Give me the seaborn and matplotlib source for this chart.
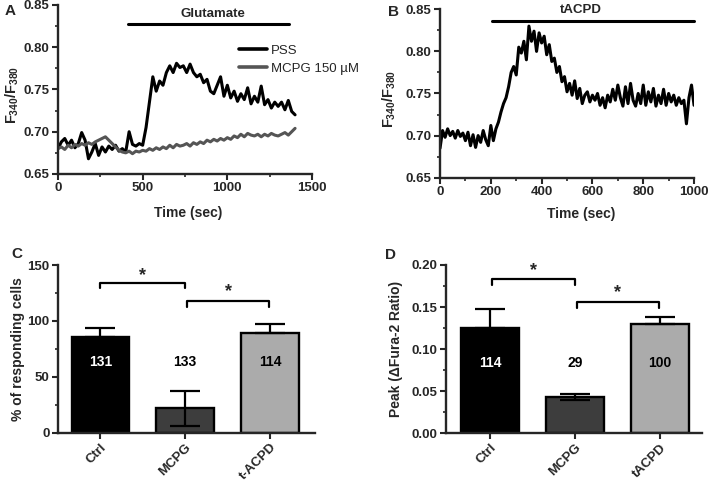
import numpy as np
import pandas as pd
import matplotlib
matplotlib.use('Agg')
import matplotlib.pyplot as plt
from matplotlib.ticker import MultipleLocator
import seaborn as sns

# panel A: F340/F380 traces sampled every 20 s
a_time = np.arange(0, 1401, 20)
a_pss = [0.680, 0.688, 0.692, 0.684, 0.690, 0.681, 0.686, 0.699, 0.690, 0.668,
         0.676, 0.686, 0.672, 0.682, 0.676, 0.683, 0.679, 0.684, 0.677, 0.680,
         0.676, 0.700, 0.685, 0.683, 0.686, 0.684, 0.705, 0.735, 0.765, 0.748,
         0.760, 0.755, 0.770, 0.778, 0.770, 0.781, 0.776, 0.778, 0.770, 0.780,
         0.770, 0.765, 0.768, 0.758, 0.762, 0.748, 0.745, 0.755, 0.765, 0.742,
         0.755, 0.740, 0.748, 0.736, 0.745, 0.738, 0.752, 0.733, 0.742, 0.735,
         0.754, 0.732, 0.738, 0.728, 0.735, 0.730, 0.735, 0.726, 0.737, 0.724,
         0.720]
a_mcpg = [0.680, 0.682, 0.679, 0.684, 0.681, 0.685, 0.683, 0.686, 0.684, 0.687,
          0.685, 0.688, 0.690, 0.692, 0.694, 0.690, 0.686, 0.682, 0.678, 0.676,
          0.675, 0.677, 0.674, 0.677, 0.676, 0.678, 0.677, 0.680, 0.678, 0.681,
          0.679, 0.682, 0.680, 0.684, 0.681, 0.685, 0.683, 0.684, 0.686, 0.683,
          0.687, 0.685, 0.688, 0.686, 0.690, 0.688, 0.691, 0.689, 0.692, 0.690,
          0.693, 0.691, 0.695, 0.693, 0.697, 0.694, 0.698, 0.696, 0.695, 0.697,
          0.694, 0.697, 0.695, 0.698, 0.696, 0.695, 0.697, 0.699, 0.696, 0.700,
          0.704]

# panel B: tACPD trace sampled every 10 s
b_time = np.arange(0, 1001, 10)
b_tacpd = [0.685, 0.706, 0.698, 0.708, 0.700, 0.705, 0.697, 0.706, 0.699, 0.703,
           0.694, 0.704, 0.688, 0.701, 0.686, 0.700, 0.692, 0.706, 0.695, 0.688,
           0.712, 0.694, 0.708, 0.716, 0.728, 0.738, 0.745, 0.758, 0.775, 0.782,
           0.772, 0.805, 0.798, 0.812, 0.790, 0.830, 0.812, 0.824, 0.800, 0.822,
           0.810, 0.818, 0.796, 0.808, 0.788, 0.792, 0.775, 0.782, 0.764, 0.770,
           0.752, 0.762, 0.748, 0.765, 0.744, 0.756, 0.738, 0.748, 0.752, 0.740,
           0.748, 0.742, 0.750, 0.736, 0.745, 0.733, 0.748, 0.740, 0.755, 0.742,
           0.760, 0.745, 0.735, 0.758, 0.738, 0.762, 0.742, 0.735, 0.750, 0.738,
           0.760, 0.736, 0.752, 0.740, 0.756, 0.735, 0.748, 0.738, 0.755, 0.736,
           0.750, 0.740, 0.748, 0.736, 0.745, 0.738, 0.742, 0.714, 0.745, 0.760,
           0.736]

# panel C: % responding cells
c_cats = ['Ctrl', 'MCPG', 't-ACPD']
c_vals = [85.9, 21.8, 89.4]
c_err = [7.5, 15.8, 8.0]
c_n = ['131', '133', '114']

# panel D: peak delta ratio
d_cats = ['Ctrl', 'MCPG', 'tACPD']
d_vals = [0.1248, 0.0430, 0.1300]
d_err = [0.0226, 0.0040, 0.0087]
d_n = ['114', '29', '100']

bar_colors = ['#000000', '#3d3d3d', '#ababab']
n_colors = ['white', 'black', 'black']

sns.set_style('ticks')
plt.rcParams['font.family'] = ['Liberation Sans', 'DejaVu Sans']
plt.rcParams['mathtext.fontset'] = 'custom'
plt.rcParams['mathtext.rm'] = 'Liberation Sans:bold'
plt.rcParams['mathtext.it'] = 'Liberation Sans:bold'
plt.rcParams['mathtext.bf'] = 'Liberation Sans:bold'
plt.rcParams['axes.linewidth'] = 1.7

fig = plt.figure(figsize=(7.08, 4.83), dpi=100)
axA = fig.add_axes([0.0819, 0.6398, 0.3588, 0.3499])
axB = fig.add_axes([0.6215, 0.6321, 0.3588, 0.3487])
axC = fig.add_axes([0.0819, 0.1041, 0.3630, 0.3472])
axD = fig.add_axes([0.6295, 0.1029, 0.3616, 0.3485])


def style_axis(ax):
    sns.despine(ax=ax)
    ax.tick_params(which='major', direction='out', length=4, width=1.5,
                   labelsize=9.5, pad=2)
    ax.tick_params(which='minor', direction='out', length=2.5, width=1.2)
    for lab in ax.get_xticklabels() + ax.get_yticklabels():
        lab.set_fontweight('bold')


# ---- A ----
dfA = pd.DataFrame({
    'time': np.concatenate([a_time, a_time]),
    'ratio': a_pss + a_mcpg,
    'cond': ['PSS'] * len(a_pss) + ['MCPG 150 µM'] * len(a_mcpg),
})
sns.lineplot(data=dfA, x='time', y='ratio', hue='cond', estimator=None,
             palette={'PSS': '#000000', 'MCPG 150 µM': '#555555'},
             linewidth=2.2, ax=axA)
axA.set_xlim(0, 1500)
axA.set_ylim(0.65, 0.85)
axA.xaxis.set_major_locator(MultipleLocator(500))
axA.xaxis.set_minor_locator(MultipleLocator(250))
axA.yaxis.set_major_locator(MultipleLocator(0.05))
axA.yaxis.set_minor_locator(MultipleLocator(0.025))
axA.yaxis.set_major_formatter(lambda v, p: f'{v:.2f}')
axA.set_xlabel('Time (sec)', fontsize=10, fontweight='bold')
axA.set_ylabel(r'$F_{340}/F_{380}$', fontsize=10.5)
axA.xaxis.set_label_coords(0.513, -0.19)
axA.yaxis.set_label_coords(-0.145, 0.47)
axA.plot([416, 1363], [0.828, 0.828], color='black', lw=2.2, clip_on=False)
axA.text(913, 0.839, 'Glutamate', ha='center', va='center', fontsize=9.5,
         fontweight='bold')
leg = axA.legend(loc='upper left', bbox_to_anchor=(0.713, 0.765), frameon=False,
                 fontsize=9.5, handlelength=2.1, handletextpad=0.3,
                 labelspacing=0.45, borderpad=0, borderaxespad=0)
for line in leg.get_lines():
    line.set_linewidth(2.6)
style_axis(axA)

# ---- B ----
sns.lineplot(x=b_time, y=b_tacpd, color='black', linewidth=2.2,
             estimator=None, ax=axB)
axB.set_xlim(0, 1000)
axB.set_ylim(0.65, 0.85)
axB.xaxis.set_major_locator(MultipleLocator(200))
axB.xaxis.set_minor_locator(MultipleLocator(100))
axB.yaxis.set_major_locator(MultipleLocator(0.05))
axB.yaxis.set_minor_locator(MultipleLocator(0.025))
axB.yaxis.set_major_formatter(lambda v, p: f'{v:.2f}')
axB.set_xlabel('Time (sec)', fontsize=10, fontweight='bold')
axB.set_ylabel(r'$F_{340}/F_{380}$', fontsize=10.5)
axB.xaxis.set_label_coords(0.555, -0.175)
axB.yaxis.set_label_coords(-0.165, 0.47)
axB.plot([203, 1000], [0.8365, 0.8365], color='black', lw=2.2, clip_on=False)
axB.text(554, 0.849, 'tACPD', ha='center', va='center', fontsize=9.5,
         fontweight='bold', clip_on=False)
style_axis(axB)


# ---- C & D ----
def bar_panel(ax, cats, vals, errs, ns, n_y, lower_err):
    sns.barplot(x=cats, y=vals, hue=cats, palette=bar_colors, legend=False,
                width=0.68, edgecolor='black', linewidth=1.7, errorbar=None,
                ax=ax)
    for i, (v, e) in enumerate(zip(vals, errs)):
        lo = e if lower_err[i] else 0
        ax.errorbar(i, v, yerr=[[lo], [e]], fmt='none', ecolor='black',
                    elinewidth=1.6, capsize=11, capthick=1.6, zorder=3)
        ax.text(i, n_y, ns[i], ha='center', va='center', fontsize=10,
                fontweight='bold', color=n_colors[i])
    ax.tick_params(axis='x', rotation=45)
    for lab in ax.get_xticklabels():
        lab.set_ha('right')
        lab.set_rotation_mode('anchor')


def bracket(ax, x0, x1, y, leg, star_y):
    ax.plot([x0, x0, x1, x1], [y - leg, y, y, y - leg], color='black',
            lw=1.6, clip_on=False)
    ax.text((x0 + x1) / 2, star_y, '*', ha='center', va='center',
            fontsize=13, fontweight='bold')


bar_panel(axC, c_cats, c_vals, c_err, c_n, 63.5, [False, True, False])
axC.set_xlim(-0.5, 2.53)
axC.set_ylim(0, 150)
axC.yaxis.set_major_locator(MultipleLocator(50))
axC.yaxis.set_minor_locator(MultipleLocator(25))
axC.set_ylabel('% of responding cells', fontsize=10, fontweight='bold')
axC.yaxis.set_label_coords(-0.13, 0.5)
axC.set_xlabel('')
bracket(axC, 0.0, 1.0, 134.2, 5, 140.5)
bracket(axC, 1.02, 1.99, 117.8, 5, 126)
style_axis(axC)

bar_panel(axD, d_cats, d_vals, d_err, d_n, 0.083, [False, True, False])
axD.set_xlim(-0.52, 2.49)
axD.set_ylim(0, 0.2)
axD.yaxis.set_major_locator(MultipleLocator(0.05))
axD.yaxis.set_minor_locator(MultipleLocator(0.025))
axD.yaxis.set_major_formatter(lambda v, p: f'{v:.2f}')
axD.set_ylabel('Peak (ΔFura-2 Ratio)', fontsize=10, fontweight='bold')
axD.yaxis.set_label_coords(-0.165, 0.5)
axD.set_xlabel('')
bracket(axD, 0.03, 1.0, 0.183, 0.007, 0.193)
bracket(axD, 1.02, 1.99, 0.1564, 0.007, 0.167)
style_axis(axD)

# panel letters
for lbl, x, y in [('A', 0.006, 0.978), ('B', 0.548, 0.975),
                  ('C', 0.016, 0.475), ('D', 0.544, 0.472)]:
    fig.text(x, y, lbl, fontsize=11, fontweight='bold', va='center')

fig.savefig('out.png', dpi=100)
